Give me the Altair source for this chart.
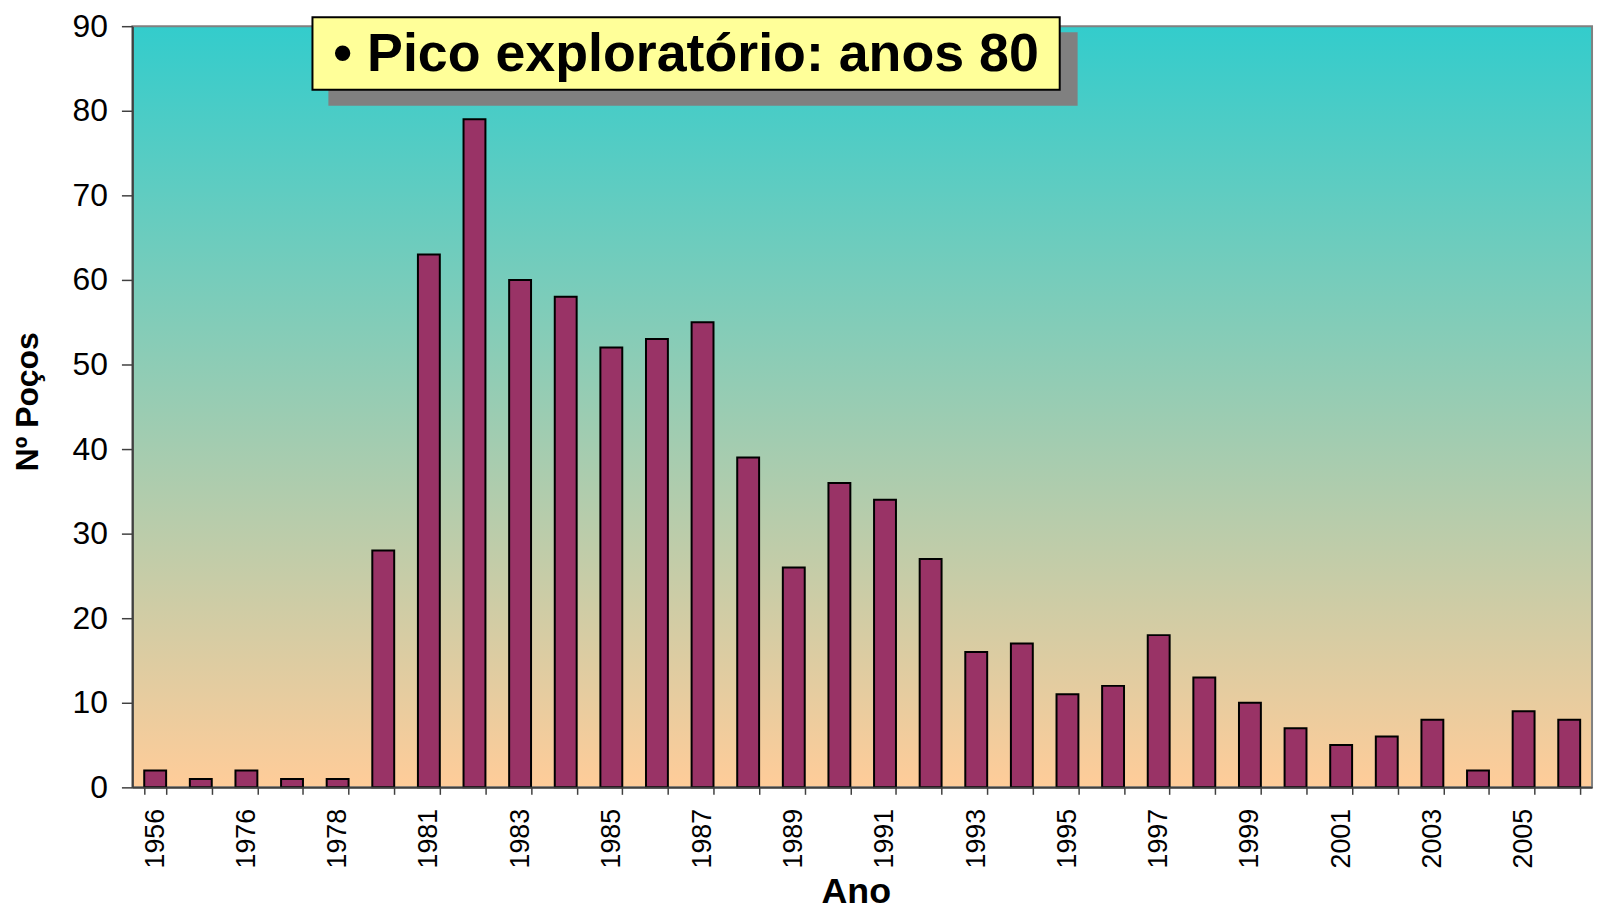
import json
import altair as alt
import pandas as pd

# ---- data ----
years = ["1956", "1975", "1976", "1977", "1978", "1980", "1981", "1982", "1983", "1984",
         "1985", "1986", "1987", "1988", "1989", "1990", "1991", "1992", "1993", "1994",
         "1995", "1996", "1997", "1998", "1999", "2000", "2001", "2002", "2003", "2004",
         "2005", "2006"]
wells = [2, 1, 2, 1, 1, 28, 63, 79, 60, 58, 52, 53, 55, 39, 26, 36, 34, 27, 16, 17,
         11, 12, 18, 13, 10, 7, 5, 6, 8, 2, 9, 8]
shown_labels = ["1956", "1976", "1978", "1981", "1983", "1985", "1987", "1989", "1991",
                "1993", "1995", "1997", "1999", "2001", "2003", "2005"]
y_ticks = [0, 10, 20, 30, 40, 50, 60, 70, 80, 90]
callout = ["• Pico exploratório: anos 80"]

W, H = 1467, 765
FONT = "Liberation Sans"

df = pd.DataFrame({"Ano": years, "Pocos": wells})
one = pd.DataFrame({"t": callout})

# gradient background of the plot area
bg = alt.Chart(one).mark_rect(
    color=alt.Gradient(
        gradient="linear",
        stops=[alt.GradientStop(color="#33CCCC", offset=0),
               alt.GradientStop(color="#FFCC99", offset=1)],
        x1=0, x2=0, y1=0, y2=1,
    ),
    stroke="#808080", strokeWidth=2,
).encode(x=alt.value(0), x2=alt.value(W), y=alt.value(0), y2=alt.value(H))

bars = alt.Chart(df).mark_bar(
    color="#993366", stroke="black", strokeWidth=2
).encode(
    x=alt.X("Ano:N", sort=years,
            scale=alt.Scale(paddingInner=0.52, paddingOuter=0.26),
            axis=alt.Axis(
                title="Ano", labelAngle=-90, labelFontSize=27, labelFont=FONT,
                labelColor="black",
                labelExpr=f"indexof({json.dumps(shown_labels)}, datum.label) >= 0 ? datum.label : ''",
                tickBand="extent", tickSize=7, tickColor="#404040", tickWidth=1.5,
                domainColor="#404040", domainWidth=2, labelPadding=14,
                titleFont=FONT, titleFontSize=36, titleFontWeight="bold", titleColor="black",
                titleX=727, titleY=116, titleAlign="center", titleBaseline="alphabetic",
                zindex=1,
            )),
    y=alt.Y("Pocos:Q",
            scale=alt.Scale(domain=[0, 90], nice=False),
            axis=alt.Axis(
                title="Nº Poços", values=y_ticks, grid=False,
                labelFontSize=32, labelFont=FONT, labelColor="black", labelPadding=14,
                tickSize=11, tickColor="#404040", tickWidth=1.5,
                domainColor="#404040", domainWidth=2,
                titleFont=FONT, titleFontSize=32, titleFontWeight="bold", titleColor="black",
                titleAngle=-90, titleX=-105, titleY=377, titleAlign="center",
                titleBaseline="middle", zindex=1,
            )),
)

shadow = alt.Chart(one).mark_rect(color="#808080").encode(
    x=alt.value(197), x2=alt.value(950), y=alt.value(6), y2=alt.value(80)
)
box = alt.Chart(one).mark_rect(fill="#FFFF99", stroke="black", strokeWidth=2).encode(
    x=alt.value(181), x2=alt.value(932), y=alt.value(-9), y2=alt.value(64)
)
label = alt.Chart(one).mark_text(
    font=FONT, fontSize=54, fontWeight="bold", color="black", align="left",
    baseline="alphabetic",
).encode(x=alt.value(202), y=alt.value(45), text="t:N")

chart = alt.layer(bg, bars, shadow, box, label).properties(
    width=W, height=H,
    autosize=alt.AutoSizeParams(type="none"),
    padding={"left": 125, "top": 16, "right": 6, "bottom": 126},
).configure_view(stroke=None)

chart.save("out.html", embed_options={"renderer": "svg", "actions": False})
